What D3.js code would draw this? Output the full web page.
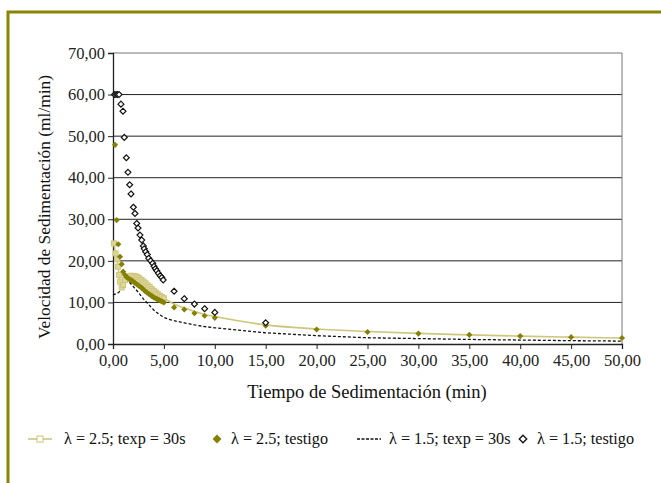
<!DOCTYPE html>
<html>
<head>
<meta charset="utf-8">
<script src="https://cdn.jsdelivr.net/npm/d3@7"></script>
<style>
  body { margin: 0; background: #fff; }
  text { font-family: "Liberation Serif", "DejaVu Serif", serif; }
</style>
</head>
<body>
<script>
// λ = 2.5; texp = 30s  (linea clara con cuadrados)
const tA = [0.1, 0.25, 0.4, 0.5, 0.6, 0.7, 0.85, 1.0, 1.2, 1.5, 1.7, 2.0, 2.2, 2.4, 2.6, 2.8, 3.0, 3.2, 3.4, 3.6, 3.8, 4.0, 4.2, 4.4, 4.6, 4.8, 5.0, 6, 7, 8, 9, 10, 15, 20, 25, 30, 35, 40, 45, 50];
const vA = [24.2, 21.8, 20.4, 18.6, 16.6, 15.0, 13.6, 14.2, 15.4, 16.2, 16.4, 16.4, 16.3, 16.1, 15.8, 15.4, 15.0, 14.6, 14.1, 13.7, 13.2, 12.8, 12.4, 12.0, 11.6, 11.3, 11.0, 9.6, 8.7, 7.8, 7.1, 6.6, 4.6, 3.6, 3.0, 2.55, 2.2, 1.9, 1.65, 1.45];

// λ = 2.5; testigo  (rombos rellenos)
const tB = [0.2, 0.36, 0.52, 0.69, 0.85, 1.0, 1.17, 1.33, 1.5, 1.67, 1.83, 2.0, 2.17, 2.33, 2.5, 2.67, 2.83, 3.0, 3.17, 3.33, 3.5, 3.67, 3.83, 4.0, 4.17, 4.33, 4.5, 4.67, 4.83, 5.0, 6, 7, 8, 9, 10, 15, 20, 25, 30, 35, 40, 45, 50];
const vB = [47.9, 29.8, 24.0, 21.0, 19.2, 17.4, 16.6, 16.1, 15.8, 15.5, 15.3, 15.0, 14.7, 14.4, 14.1, 13.8, 13.5, 13.1, 12.7, 12.4, 12.1, 11.8, 11.5, 11.2, 11.0, 10.8, 10.6, 10.4, 10.2, 10.0, 8.8, 8.3, 7.4, 6.8, 6.3, 4.4, 3.5, 2.9, 2.5, 2.2, 1.9, 1.65, 1.45];

// λ = 1.5; texp = 30s  (linea discontinua)
const tC = [0, 0.5, 0.8, 1.0, 1.3, 1.5, 2.0, 2.5, 3.0, 3.5, 4.0, 4.5, 5.0, 5.5, 6, 7, 8, 9, 10, 15, 20, 25, 30, 35, 40, 45, 50];
const vC = [11.8, 12.3, 13.0, 14.2, 15.4, 15.2, 13.8, 12.4, 10.8, 9.5, 8.2, 7.2, 6.4, 5.9, 5.6, 5.1, 4.6, 4.2, 3.9, 2.7, 2.0, 1.5, 1.3, 1.1, 0.95, 0.8, 0.7];

// λ = 1.5; testigo  (rombos huecos)
const tD = [0.15, 0.3, 0.45, 0.6, 0.78, 0.98, 1.11, 1.31, 1.47, 1.64, 1.77, 2.0, 2.16, 2.33, 2.46, 2.65, 2.82, 2.98, 3.07, 3.21, 3.37, 3.51, 3.7, 3.9, 4.03, 4.16, 4.3, 4.46, 4.63, 4.79, 4.93, 6, 7, 8, 9, 10, 15];
const vD = [60, 60, 60, 60, 57.7, 56.0, 49.7, 44.8, 41.3, 38.3, 36.1, 32.9, 31.4, 29.0, 27.9, 26.2, 25.0, 23.6, 22.9, 22.2, 21.5, 20.6, 20.0, 19.4, 18.7, 18.1, 17.6, 17.0, 16.4, 16.0, 15.4, 12.7, 10.9, 9.6, 8.5, 7.6, 5.1];

const xTicks = [0, 5, 10, 15, 20, 25, 30, 35, 40, 45, 50];
const yTicks = [0, 10, 20, 30, 40, 50, 60, 70];
const seriesNames = ["λ = 2.5; texp = 30s", "λ = 2.5; testigo", "λ = 1.5; texp = 30s", "λ = 1.5; testigo"];

const width = 661, height = 483;
const olive = "#8a8400", light = "#cdc67c", dark = "#858000";

const svg = d3.select("body").append("svg")
    .attr("width", width)
    .attr("height", height);

// marco
svg.append("path")
    .attr("d", "M8,483 V12 H661")
    .attr("fill", "none")
    .attr("stroke", olive)
    .attr("stroke-width", 3);

const x = d3.scaleLinear().domain([0, 50]).range([113, 622]);
const y = d3.scaleLinear().domain([0, 70]).range([344, 53]);
const fmt = v => d3.format(".2f")(v).replace(".", ",");

// lineas de division
svg.append("g")
    .selectAll("line")
    .data(yTicks.slice(1))
    .join("line")
    .attr("x1", x(0)).attr("x2", x(50))
    .attr("y1", d => y(d)).attr("y2", d => y(d))
    .attr("stroke", d => d === 70 ? "#777" : "#222")
    .attr("stroke-width", 1);

svg.append("line")
    .attr("x1", x(50)).attr("x2", x(50))
    .attr("y1", y(70)).attr("y2", y(0))
    .attr("stroke", "#777");

const yAxis = svg.append("g")
    .attr("transform", `translate(${x(0)},0)`)
    .call(d3.axisLeft(y).tickValues(yTicks).tickFormat(fmt).tickSize(5).tickPadding(3));

const xAxis = svg.append("g")
    .attr("transform", `translate(0,${y(0)})`)
    .call(d3.axisBottom(x).tickValues(xTicks).tickFormat(fmt).tickSize(5).tickPadding(5));

[yAxis, xAxis].forEach(g => {
    g.attr("font-family", null);
    g.select(".domain").attr("stroke", "#222").attr("stroke-width", 1.3);
    g.selectAll(".tick line").attr("stroke", "#222");
    g.selectAll("text")
        .style("font-family", "'Liberation Serif', serif")
        .attr("font-size", 16.5)
        .attr("fill", "#222");
});

// titulos de ejes
svg.append("text")
    .attr("x", 367).attr("y", 398)
    .attr("text-anchor", "middle")
    .attr("font-size", 18.5)
    .attr("fill", "#111")
    .text("Tiempo de Sedimentación (min)");

svg.append("text")
    .attr("transform", "translate(50,207) rotate(-90)")
    .attr("text-anchor", "middle")
    .attr("font-size", 17.4)
    .attr("fill", "#111")
    .text("Velocidad de Sedimentación (ml/min)");

const line = d3.line().x(d => x(d[0])).y(d => y(d[1]));
const ptsA = tA.map((t, i) => [t, vA[i]]);
const ptsB = tB.map((t, i) => [t, vB[i]]);
const ptsC = tC.map((t, i) => [t, vC[i]]);
const ptsD = tD.map((t, i) => [t, vD[i]]);

const diamond = d3.symbol().type(d3.symbolDiamond2);

// serie C: discontinua
svg.append("path")
    .attr("d", line(ptsC))
    .attr("fill", "none")
    .attr("stroke", "#111")
    .attr("stroke-width", 1.3)
    .attr("stroke-dasharray", "3,2");

// serie A: linea clara
svg.append("path")
    .attr("d", line.curve(d3.curveMonotoneX)(ptsA))
    .attr("fill", "none")
    .attr("stroke", light)
    .attr("stroke-width", 1.6);
line.curve(d3.curveLinear);

svg.append("g")
    .selectAll("rect")
    .data(ptsA.filter(d => d[0] <= 5))
    .join("rect")
    .attr("x", d => x(d[0]) - 2.5)
    .attr("y", d => y(d[1]) - 2.5)
    .attr("width", 5).attr("height", 5)
    .attr("fill", "#ddd69a")
    .attr("stroke", light)
    .attr("stroke-width", 1);

// serie B: rombos rellenos
svg.append("g")
    .selectAll("path")
    .data(ptsB)
    .join("path")
    .attr("transform", d => `translate(${x(d[0])},${y(d[1])})`)
    .attr("d", diamond.size(24))
    .attr("fill", dark);

// serie D: rombos huecos
svg.append("g")
    .selectAll("path")
    .data(ptsD)
    .join("path")
    .attr("transform", d => `translate(${x(d[0])},${y(d[1])})`)
    .attr("d", diamond.size(22))
    .attr("fill", "#fff")
    .attr("stroke", "#111")
    .attr("stroke-width", 1.2);

// leyenda
const ly = 439;
const legend = svg.append("g");
legend.append("line").attr("x1", 28).attr("x2", 52).attr("y1", ly).attr("y2", ly)
    .attr("stroke", light).attr("stroke-width", 1.6);
legend.append("rect").attr("x", 37).attr("y", ly - 3).attr("width", 6).attr("height", 6)
    .attr("fill", "#fff").attr("stroke", light);
legend.append("path").attr("transform", `translate(217,${ly})`).attr("d", diamond.size(50)).attr("fill", dark);
legend.append("line").attr("x1", 357).attr("x2", 381).attr("y1", ly).attr("y2", ly)
    .attr("stroke", "#111").attr("stroke-width", 1.3).attr("stroke-dasharray", "3,1.5");
legend.append("path").attr("transform", `translate(523,${ly})`).attr("d", diamond.size(36))
    .attr("fill", "#fff").attr("stroke", "#111").attr("stroke-width", 1.3);

legend.selectAll("text")
    .data(seriesNames)
    .join("text")
    .attr("x", (d, i) => [64, 231, 389, 537][i])
    .attr("y", ly + 5)
    .attr("font-size", 16.2)
    .attr("fill", "#111")
    .text(d => d);
</script>
</body>
</html>
